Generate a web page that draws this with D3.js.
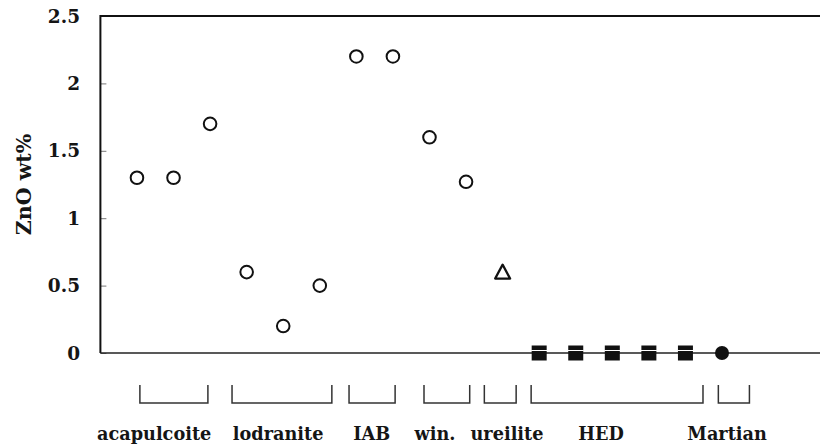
<!DOCTYPE html>
<html>
<head>
<meta charset="utf-8">
<script src="https://cdn.jsdelivr.net/npm/d3@7"></script>
<style>
  html, body { margin: 0; padding: 0; background: #fff; }
</style>
</head>
<body>
<svg id="chart" width="821" height="446"></svg>
<script>
// ZnO content (wt%) per meteorite sample, in plotting order
const samples = [1, 2, 3, 4, 5, 6, 7, 8, 9, 10, 11, 12, 13, 14, 15, 16, 17];
const zno = [1.3, 1.3, 1.7, 0.6, 0.2, 0.5, 2.2, 2.2, 1.6, 1.27, 0.6, 0, 0, 0, 0, 0, 0];
const markerType = ["open", "open", "open", "open", "open", "open", "open", "open", "open", "open",
                    "triangle", "square", "square", "square", "square", "square", "disc"];

// meteorite groups: bracket span and label position, in sample-index units
const groupNames = ["acapulcoite", "lodranite", "IAB", "win.", "ureilite", "HED", "Martian"];
const groupStart = [1.08, 3.6, 6.8, 8.85, 10.5, 11.78, 16.9];
const groupEnd = [2.94, 6.33, 8.06, 10.1, 11.37, 16.48, 17.75];
const groupLabelAt = [1.47, 4.86, 7.42, 9.15, 11.12, 13.69, 17.14];

const yTicks = [0, 0.5, 1, 1.5, 2, 2.5];
const yTickLabels = ["0", "0.5", "1", "1.5", "2", "2.5"];

const svg = d3.select("#chart");
const x = d3.scaleLinear().domain([0, 19.68]).range([100.4, 820]);
const y = d3.scaleLinear().domain([0, 2.5]).range([353, 16]);

function serifText(sel, size) {
  return sel.style("font-family", "'DejaVu Serif'").style("font-weight", "bold")
    .style("font-size", size + "px").attr("fill", "#151515");
}

// y axis with short inward ticks
const yAxis = d3.axisRight(y).tickValues(yTicks).tickSize(6).tickFormat("");
const gy = svg.append("g").attr("transform", `translate(${x(0)},0)`).call(yAxis);
gy.select(".domain").remove();
gy.selectAll(".tick line").attr("stroke", "#777").attr("stroke-width", 1);

svg.append("g").selectAll("text").data(yTicks).join("text")
  .call(serifText, 18.5)
  .attr("x", 80).attr("y", d => y(d)).attr("dy", "0.36em")
  .attr("text-anchor", "end")
  .text((d, i) => yTickLabels[i]);

// frame: left axis, top border, zero baseline
svg.append("line").attr("x1", x(0)).attr("x2", x(0)).attr("y1", y(2.5) - 1).attr("y2", y(0))
  .attr("stroke", "#111").attr("stroke-width", 2);
svg.append("line").attr("x1", x(0)).attr("x2", 820).attr("y1", y(2.5)).attr("y2", y(2.5))
  .attr("stroke", "#111").attr("stroke-width", 2);
svg.append("line").attr("x1", x(0)).attr("x2", 820).attr("y1", y(0)).attr("y2", y(0))
  .attr("stroke", "#222").attr("stroke-width", 1.6);

// axis title
svg.append("text")
  .call(serifText, 20.5)
  .attr("transform", `translate(31,${y(1.25)}) rotate(-90)`)
  .attr("text-anchor", "middle")
  .text("ZnO wt%");

// data markers
const pts = samples.map((s, i) => ({ s, v: zno[i], t: markerType[i] }));
const g = svg.append("g");
g.selectAll("circle.open").data(pts.filter(d => d.t === "open")).join("circle")
  .attr("class", "open")
  .attr("cx", d => x(d.s)).attr("cy", d => y(d.v)).attr("r", 6.3)
  .attr("fill", "#fff").attr("stroke", "#111").attr("stroke-width", 2);

g.selectAll("path.tri").data(pts.filter(d => d.t === "triangle")).join("path")
  .attr("class", "tri")
  .attr("d", d => {
    const cx = x(d.s), cy = y(d.v);
    return `M${cx},${cy - 7.5}L${cx + 7.5},${cy + 6.5}L${cx - 7.5},${cy + 6.5}Z`;
  })
  .attr("fill", "#fff").attr("stroke", "#111").attr("stroke-width", 2.2).attr("stroke-linejoin", "round");

const sq = g.selectAll("g.sq").data(pts.filter(d => d.t === "square")).join("g")
  .attr("class", "sq")
  .attr("transform", d => `translate(${x(d.s)},${y(d.v)})`);
sq.append("rect").attr("x", -7.5).attr("y", -7.5).attr("width", 15).attr("height", 15).attr("fill", "#111");
sq.append("line").attr("x1", -8).attr("x2", 8).attr("y1", -2.5).attr("y2", -2.5)
  .attr("stroke", "#fff").attr("stroke-width", 1);

g.selectAll("circle.disc").data(pts.filter(d => d.t === "disc")).join("circle")
  .attr("class", "disc")
  .attr("cx", d => x(d.s)).attr("cy", d => y(d.v)).attr("r", 7)
  .attr("fill", "#111");

// group brackets and names
const groups = groupNames.map((n, i) => ({ n, a: groupStart[i], b: groupEnd[i], c: groupLabelAt[i] }));
svg.append("g").selectAll("path").data(groups).join("path")
  .attr("d", d => `M${x(d.a)},385V403H${x(d.b)}V385`)
  .attr("fill", "none").attr("stroke", "#333").attr("stroke-width", 1.5);

svg.append("g").selectAll("text").data(groups).join("text")
  .call(serifText, 17.7)
  .attr("x", d => x(d.c)).attr("y", 440)
  .attr("text-anchor", "middle")
  .text(d => d.n);
</script>
</body>
</html>
